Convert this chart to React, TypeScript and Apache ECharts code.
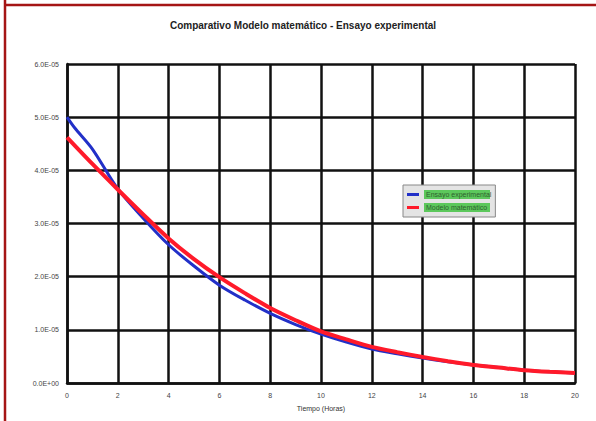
import React, { useEffect, useRef } from "react";
import * as echarts from "echarts";

const TITLE = "Comparativo Modelo matemático - Ensayo experimental";
const X_NAME = "Tiempo (Horas)";
const SERIES_NAMES = ["Ensayo experimental", "Modelo matemático"];

const expX = [0, 0.3, 1, 2, 3, 4, 5, 6, 7, 8, 9, 10, 11, 12, 13, 14, 15, 16, 17, 18, 19, 20];
const expY = [5.0e-5, 4.8e-5, 4.4e-5, 3.65e-5, 3.1e-5, 2.6e-5, 2.2e-5, 1.84e-5, 1.56e-5, 1.31e-5, 1.1e-5, 0.92e-5, 0.77e-5, 0.64e-5, 0.55e-5, 0.47e-5, 0.4e-5, 0.34e-5, 0.29e-5, 0.24e-5, 0.21e-5, 0.19e-5];

const modX = [0, 1, 2, 3, 4, 5, 6, 7, 8, 9, 10, 11, 12, 13, 14, 15, 16, 17, 18, 19, 20];
const modY = [4.62e-5, 4.12e-5, 3.64e-5, 3.17e-5, 2.72e-5, 2.33e-5, 1.99e-5, 1.69e-5, 1.41e-5, 1.18e-5, 0.97e-5, 0.82e-5, 0.68e-5, 0.58e-5, 0.49e-5, 0.41e-5, 0.34e-5, 0.29e-5, 0.24e-5, 0.21e-5, 0.19e-5];

const Y_MIN = 0;
const Y_MAX = 6e-5;
const Y_STEP = 1e-5;
const X_MIN = 0;
const X_MAX = 20;
const X_STEP = 2;

function fmtExp(v: number): string {
  const r = Math.round(v / 1e-7) * 1e-7;
  if (Math.abs(r) < 1e-12) return "0.0E+00";
  const [m, e] = r.toExponential(1).split("e");
  const n = parseInt(e, 10);
  const sign = n < 0 ? "-" : "+";
  const abs = Math.abs(n);
  return m + "E" + sign + (abs < 10 ? "0" + abs : String(abs));
}

export default function App() {
  const ref = useRef<HTMLDivElement>(null);
  useEffect(() => {
    if (!ref.current) return;
    const chart = echarts.init(ref.current, null, { renderer: "svg" });
    const labelStyle = { fontSize: 7, color: "#444", fontFamily: "Liberation Sans, Arial, sans-serif" };
    chart.setOption({
      animation: false,
      backgroundColor: "#ffffff",
      title: {
        text: TITLE,
        left: 298,
        textAlign: "center",
        top: 15,
        textStyle: { fontSize: 10, fontWeight: "bold", color: "#222", fontFamily: "Liberation Sans, Arial, sans-serif" },
      },
      grid: { left: 67, right: 21, top: 64, bottom: 38, containLabel: false },
      legend: {
        orient: "vertical",
        left: 403,
        top: 185,
        itemWidth: 12,
        itemHeight: 3,
        itemGap: 4,
        padding: [5, 4, 5, 4],
        backgroundColor: "#e4e4e4",
        borderColor: "#888888",
        borderWidth: 1,
        icon: "rect",
        textStyle: {
          fontSize: 7,
          color: "#2f5f2f",
          backgroundColor: "#5cc85c",
          width: 62,
          padding: [1, 2, 1, 2],
          fontFamily: "Liberation Sans, Arial, sans-serif",
        },
        data: SERIES_NAMES,
      },
      xAxis: {
        type: "value",
        min: X_MIN,
        max: X_MAX,
        interval: X_STEP,
        name: X_NAME,
        nameLocation: "middle",
        nameGap: 22,
        nameTextStyle: { fontSize: 7, color: "#333", fontFamily: "Liberation Sans, Arial, sans-serif" },
        axisLine: { lineStyle: { color: "#111", width: 2.5 } },
        axisTick: { show: false },
        axisLabel: { ...labelStyle, margin: 9 },
        splitLine: { show: true, lineStyle: { color: "#111", width: 2.5 } },
      },
      yAxis: {
        type: "value",
        min: Y_MIN,
        max: Y_MAX,
        interval: Y_STEP,
        axisLine: { show: true, lineStyle: { color: "#111", width: 2.5 } },
        axisTick: { show: false },
        axisLabel: { ...labelStyle, margin: 8, formatter: (v: number) => fmtExp(v) },
        splitLine: { show: true, lineStyle: { color: "#111", width: 2.5 } },
      },
      graphic: [
        { type: "line", shape: { x1: 5, y1: 0, x2: 5, y2: 421 }, style: { stroke: "#a51515", lineWidth: 2.5 }, z: 100 },
        { type: "line", shape: { x1: 4, y1: 5, x2: 596, y2: 5 }, style: { stroke: "#a51515", lineWidth: 2.5 }, z: 100 },
      ],
      series: [
        {
          name: SERIES_NAMES[0],
          type: "line",
          smooth: 0.3,
          showSymbol: false,
          data: expX.map((x, i) => [x, expY[i]]),
          lineStyle: { color: "#2230c8", width: 3 },
          itemStyle: { color: "#2230c8" },
          z: 3,
        },
        {
          name: SERIES_NAMES[1],
          type: "line",
          smooth: 0.3,
          showSymbol: false,
          data: modX.map((x, i) => [x, modY[i]]),
          lineStyle: { color: "#ff1a2a", width: 4 },
          itemStyle: { color: "#ff1a2a" },
          z: 4,
        },
      ],
    });
    return () => chart.dispose();
  }, []);
  return (
    <div style={{ position: "fixed", left: 0, top: 0, width: 596, height: 421, background: "#fff" }}>
      <div ref={ref} style={{ width: 596, height: 421 }} />
    </div>
  );
}
